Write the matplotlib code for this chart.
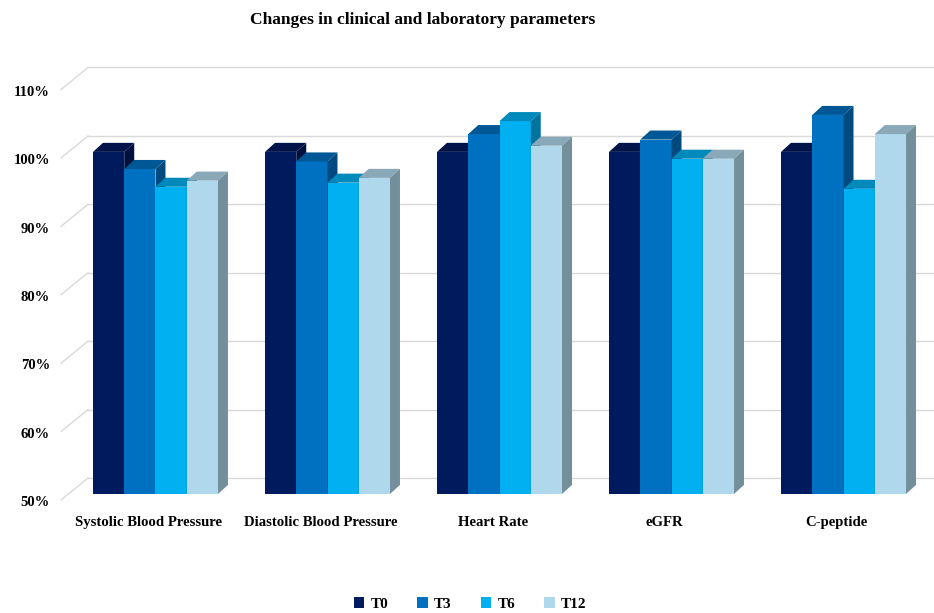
import matplotlib.pyplot as plt
from matplotlib.patches import Polygon, Patch
import numpy as np

categories = ["Systolic Blood Pressure", "Diastolic Blood Pressure", "Heart Rate", "eGFR", "C-peptide"]
series = ["T0", "T3", "T6", "T12"]
t0 = [100.0, 100.0, 100.0, 100.0, 100.0]
t3 = [97.5, 98.6, 102.6, 101.8, 105.4]
t6 = [94.9, 95.5, 104.5, 99.0, 94.6]
t12 = [95.8, 96.2, 100.9, 99.0, 102.6]
yticks = [50, 60, 70, 80, 90, 100, 110]
colors = ["#001A5E", "#0070C0", "#00B0F0", "#B0D8EC"]

plt.rcParams['font.family'] = ['Liberation Serif', 'DejaVu Serif']
plt.rcParams['font.weight'] = 'bold'

fig = plt.figure(figsize=(9.34, 6.13), dpi=100)
ax = fig.add_axes([0, 0, 1, 1])
# axes limits chosen so one category = 172 px and 1% = 6.84 px
ax.set_xlim(-0.904, 4.526)
ax.set_ylim(32.6, 122.2)
ax.axis("off")

base = 50
w = 0.1817
ddx, ddy = 0.058, 1.32          # bar depth offset
wall_x, wall_dy = -0.392, 2.34  # back wall
front_x, front_dy = -0.549, -0.88  # front plane


def shade(c, f):
    r, g, b = [int(c[i:i + 2], 16) / 255 for i in (1, 3, 5)]
    return (r * f, g * f, b * f)


# back wall gridlines + left diagonals
for v in yticks:
    ax.plot([front_x, wall_x], [v + front_dy, v + wall_dy], color="#D9D9D9", lw=1, zorder=1)
    ax.plot([wall_x, 4.526], [v + wall_dy, v + wall_dy], color="#D9D9D9", lw=1, zorder=1)
    ax.text(-0.614, v + front_dy - 0.4, f"{v}%", ha="right", va="center", fontsize=10.5)

x = np.arange(len(categories))
data = [t0, t3, t6, t12]
for i in range(len(categories)):
    for j, vals in enumerate(data):
        x0 = x[i] + (j - 2) * w
        h = vals[i]
        c = colors[j]
        z = 3 + i * 10 + j * 2
        ax.bar(x0, h - base, width=w, bottom=base, align="edge", color=c, zorder=z)
        top = Polygon([(x0, h), (x0 + ddx, h + ddy), (x0 + w + ddx, h + ddy), (x0 + w, h)],
                      closed=True, facecolor=shade(c, 0.78), edgecolor="none", zorder=z)
        side = Polygon([(x0 + w, base), (x0 + w + ddx, base + ddy), (x0 + w + ddx, h + ddy), (x0 + w, h)],
                       closed=True, facecolor=shade(c, 0.66), edgecolor="none", zorder=z)
        ax.add_patch(top)
        ax.add_patch(side)
    ax.text(x[i] - 0.04, 45.9, categories[i], ha="center", va="center", fontsize=10.6)

fig.text(423 / 934, 1 - 20 / 613, "Changes in clinical and laboratory parameters",
         ha="center", va="center", fontsize=12.5, fontweight="bold")

handles = [Patch(facecolor=c, edgecolor="none") for c in colors]
fig.legend(handles, series, loc="center", bbox_to_anchor=(470 / 934, 1 - 604 / 613), ncol=4,
           frameon=False, handlelength=0.7, handleheight=0.7, handletextpad=0.4,
           columnspacing=1.9, fontsize=11)

fig.savefig("out.png", dpi=100)
